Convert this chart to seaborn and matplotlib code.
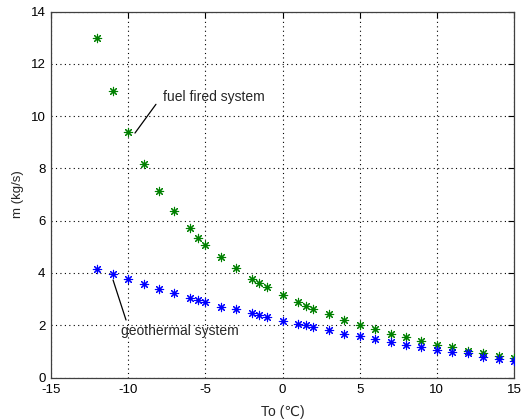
import matplotlib
matplotlib.use("Agg")
import matplotlib.pyplot as plt
import seaborn as sns
import pandas as pd

x_fuel = [-12, -11, -10, -9, -8, -7, -6, -5.5, -5, -4, -3, -2, -1.5, -1, 0, 1, 1.5, 2, 3, 4, 5, 6, 7, 8, 9, 10, 11, 12, 13, 14, 15]
m_fuel = [13.0, 10.95, 9.4, 8.15, 7.15, 6.35, 5.7, 5.35, 5.08, 4.6, 4.18, 3.78, 3.63, 3.45, 3.16, 2.87, 2.74, 2.62, 2.42, 2.21, 2.0, 1.84, 1.68, 1.56, 1.4, 1.26, 1.16, 1.03, 0.94, 0.84, 0.73]
x_geo = [-12, -11, -10, -9, -8, -7, -6, -5.5, -5, -4, -3, -2, -1.5, -1, 0, 1, 1.5, 2, 3, 4, 5, 6, 7, 8, 9, 10, 11, 12, 13, 14, 15]
m_geo = [4.15, 3.97, 3.75, 3.58, 3.4, 3.22, 3.04, 2.96, 2.88, 2.71, 2.61, 2.45, 2.38, 2.31, 2.18, 2.06, 2.01, 1.94, 1.81, 1.68, 1.6, 1.49, 1.35, 1.26, 1.17, 1.07, 0.98, 0.94, 0.79, 0.71, 0.64]
x_ticks = [-15, -10, -5, 0, 5, 10, 15]
y_ticks = [0, 2, 4, 6, 8, 10, 12, 14]

sns.set_theme(style="white")
plt.rcParams['font.family'] = ['Liberation Sans', 'DejaVu Sans']

fig = plt.figure(figsize=(5.23, 4.2), dpi=100)
ax = fig.add_axes([51/523, 1 - 377.5/420, (514-51)/523, (377.5-11.5)/420])

df_fuel = pd.DataFrame({"To": x_fuel, "m": m_fuel})
df_geo = pd.DataFrame({"To": x_geo, "m": m_geo})
star = (8, 2, 0)
sns.scatterplot(data=df_fuel, x="To", y="m", ax=ax, marker=star, color=(0, 0.5, 0), s=36, linewidth=0.8, zorder=3)
sns.scatterplot(data=df_geo, x="To", y="m", ax=ax, marker=star, color=(0, 0, 1), s=36, linewidth=0.8, zorder=3)

ax.set_xlim(-15, 15)
ax.set_ylim(0, 14)
ax.set_xticks(x_ticks)
ax.set_yticks(y_ticks)
ax.set_xticklabels([str(t) for t in x_ticks])
ax.set_yticklabels([str(t) for t in y_ticks])
ax.grid(True, linestyle=(0, (1, 3)), color="black", linewidth=0.8)
ax.tick_params(direction="in", length=4, width=0.8, top=True, right=True, labelsize=9.5, colors="black")
ax.tick_params(axis="x", pad=5)
ax.tick_params(axis="y", pad=4)
for s in ax.spines.values():
    s.set_color("#404040")
    s.set_linewidth(0.9)

ax.set_xlabel("To (\u2103)", fontsize=10, labelpad=6)
ax.set_ylabel("m (kg/s)", fontsize=9.5, labelpad=5)

ax.plot([-8.2, -9.56], [10.45, 9.35], color="black", linewidth=0.9)
ax.text(-7.74, 10.73, "fuel fired system", fontsize=10, va="center", ha="left")
ax.plot([-10.98, -10.14], [3.73, 2.2], color="black", linewidth=0.9)
ax.text(-10.48, 1.78, "geothermal system", fontsize=10, va="center", ha="left")

fig.savefig("out.png", dpi=100)
